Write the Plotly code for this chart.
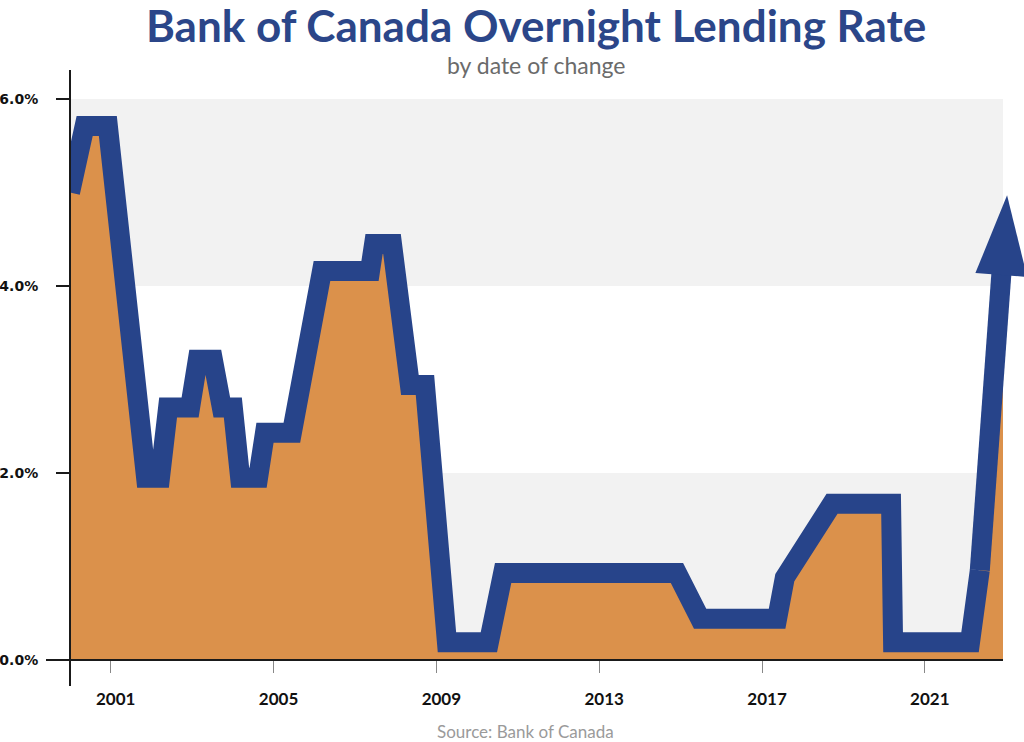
import plotly.graph_objects as go

# ---- data ----
years = [2000.00, 2000.36, 2000.93, 2001.87, 2002.21, 2002.41, 2002.95, 2003.14,
         2003.51, 2003.73, 2004.00, 2004.18, 2004.62, 2004.79, 2005.45, 2006.19,
         2007.37, 2007.47, 2007.91, 2008.35, 2008.72, 2009.26, 2010.29, 2010.64,
         2014.91, 2015.48, 2017.37, 2017.56, 2018.72, 2020.17, 2020.22, 2022.11,
         2022.35, 2023.02]
rates = [5.00, 5.71, 5.71, 1.95, 1.95, 2.70, 2.70, 3.21,
         3.21, 2.70, 2.70, 1.95, 1.95, 2.43, 2.43, 4.16,
         4.16, 4.45, 4.45, 2.94, 2.94, 0.19, 0.19, 0.93,
         0.93, 0.44, 0.44, 0.88, 1.67, 1.67, 0.19, 0.19,
         0.96, 4.97]
tick_years = [2001, 2005, 2009, 2013, 2017, 2021]
tick_rates = [0, 2, 4, 6]
tick_rate_labels = ["0.0%", "2.0%", "4.0%", "6.0%"]
band_ranges = [(0, 2), (4, 6)]

TITLE = "Bank of Canada Overnight Lending Rate"
SUBTITLE = "by date of change"
SOURCE = "Source: Bank of Canada"

BLUE = "#27448a"
TITLE_BLUE = "#2b4689"
ORANGE = "#db914b"
BAND = "#f2f2f2"

W, H = 1024, 742
L, R, T, B = 70, 0, 99, 742 - 660
plot_w = W - L - R
plot_h = H - T - B
main_px = 1003 - 70
x0, x1 = 2000.0, 2022.92
px_per_year = main_px / (x1 - x0)
main_dom = main_px / plot_w
x2_max = x0 + plot_w / px_per_year


def px_x(px):  # page pixel -> paper x
    return (px - L) / plot_w


def px_y(py):  # page pixel -> paper y
    return (H - B - py) / plot_h


fig = go.Figure()

# orange area (clipped at the plot edge)
fig.add_trace(go.Scatter(
    x=years, y=rates, mode="lines",
    line=dict(width=0, color=ORANGE),
    fill="tozeroy", fillcolor=ORANGE,
    xaxis="x", yaxis="y", hoverinfo="skip", showlegend=False))

# thick blue line (all but the last segment, one continuous path)
fig.add_trace(go.Scatter(
    x=years[:-1], y=rates[:-1], mode="lines",
    line=dict(width=20, color=BLUE),
    xaxis="x2", yaxis="y", hoverinfo="skip", showlegend=False))

# last segment ending in an arrow head
fig.add_trace(go.Scatter(
    x=years[-2:], y=rates[-2:], mode="lines+markers",
    line=dict(width=20, color=BLUE),
    marker=dict(symbol="arrow", size=[0, 84], color=BLUE, opacity=1,
                angleref="previous", line=dict(width=0)),
    xaxis="x2", yaxis="y", hoverinfo="skip", showlegend=False))

shapes = []
for lo, hi in band_ranges:
    shapes.append(dict(type="rect", xref="paper", yref="y", x0=0, x1=main_dom,
                       y0=lo, y1=hi, fillcolor=BAND, line=dict(width=0),
                       layer="below"))
# axis lines
shapes.append(dict(type="line", xref="paper", yref="paper",
                   x0=px_x(46), x1=main_dom, y0=0, y1=0,
                   line=dict(color="#1a1a1a", width=2), layer="above"))
shapes.append(dict(type="line", xref="paper", yref="paper",
                   x0=0, x1=0, y0=px_y(686), y1=px_y(70),
                   line=dict(color="#1a1a1a", width=2), layer="above"))

fig.update_layout(
    width=W, height=H,
    margin=dict(l=L, r=R, t=T, b=B, autoexpand=False),
    plot_bgcolor="rgba(0,0,0,0)", paper_bgcolor="white",
    showlegend=False,
    xaxis=dict(domain=[0, main_dom], range=[x0, x1],
               tickvals=tick_years, ticktext=[str(v) for v in tick_years],
               ticks="outside", ticklen=12, tickwidth=1.2, tickcolor="#888888",
               showline=False, showgrid=False, zeroline=False,
               tickfont=dict(family="Lato", size=17, color="#111111", weight="bold"),
               ticklabelstandoff=12, ticklabelshift=5),
    xaxis2=dict(domain=[0, 1], range=[x0, x2_max], anchor="y",
                visible=False, showgrid=False, zeroline=False),
    yaxis=dict(range=[0, 6], tickvals=tick_rates, ticktext=tick_rate_labels,
               ticks="outside", ticklen=13, tickwidth=1.5, tickcolor="#1a1a1a",
               showline=False, showgrid=False, zeroline=False,
               tickfont=dict(family="DejaVu Sans", size=14, color="#111111", weight="bold"),
               ticklabelstandoff=15),
    shapes=shapes,
    annotations=[
        dict(text=TITLE, xref="paper", yref="paper", x=px_x(536), y=px_y(25),
             xanchor="center", yanchor="middle", showarrow=False,
             font=dict(family="Lato", size=44, color=TITLE_BLUE, weight="bold")),
        dict(text=SUBTITLE, xref="paper", yref="paper", x=px_x(536), y=px_y(65),
             xanchor="center", yanchor="middle", showarrow=False,
             font=dict(family="Lato", size=23, color="#6b6b6b")),
        dict(text=SOURCE, xref="paper", yref="paper", x=px_x(525), y=px_y(731),
             xanchor="center", yanchor="middle", showarrow=False,
             font=dict(family="Lato", size=17, color="#9a9a9a")),
    ],
)

fig.write_html("out.html",
               config={"displayModeBar": False},
               post_script="document.body.style.margin='0px';"
                           "document.body.style.padding='0px';")
